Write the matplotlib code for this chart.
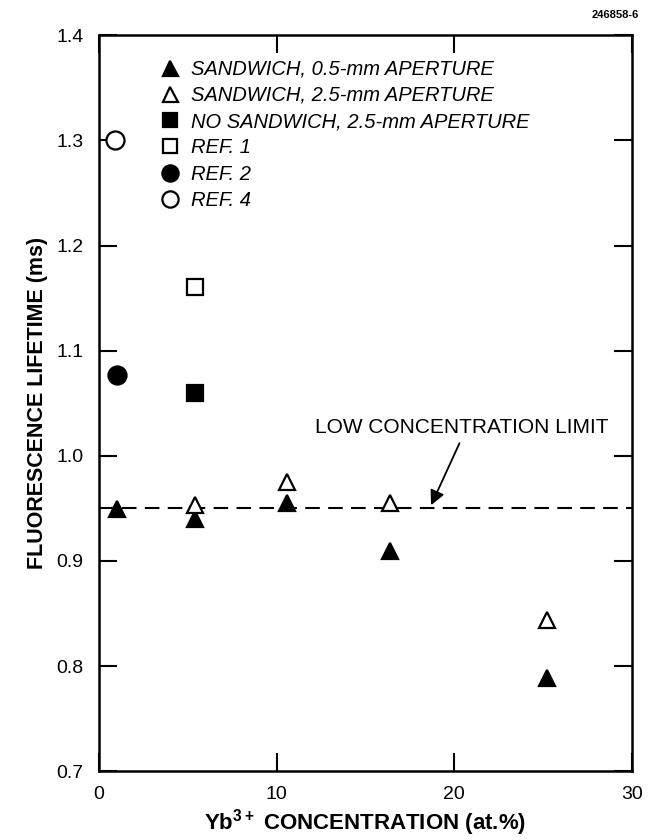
import matplotlib.pyplot as plt
import numpy as np

plt.rcParams['font.family'] = ['Liberation Sans', 'DejaVu Sans']
plt.rcParams['mathtext.fontset'] = 'custom'
plt.rcParams['mathtext.rm'] = 'Liberation Sans'
plt.rcParams['mathtext.bf'] = 'Liberation Sans:bold'

# Datos
x_sand05 = [1.0, 5.4, 10.6, 16.4, 25.2]
y_sand05 = [0.949, 0.940, 0.955, 0.909, 0.789]

x_sand25 = [5.4, 10.6, 16.4, 25.2]
y_sand25 = [0.953, 0.975, 0.955, 0.844]

x_nosand = [5.4]
y_nosand = [1.060]

x_ref1 = [5.4]
y_ref1 = [1.161]

x_ref2 = [1.0]
y_ref2 = [1.077]

x_ref4 = [0.9]
y_ref4 = [1.300]

limite = 0.95

etiquetas = ["SANDWICH, 0.5-mm APERTURE", "SANDWICH, 2.5-mm APERTURE",
             "NO SANDWICH, 2.5-mm APERTURE", "REF. 1", "REF. 2", "REF. 4"]

fig = plt.figure(figsize=(6.49, 8.4), dpi=100)
ax = fig.add_axes([0.1525, 0.082, 0.821, 0.876])

ax.axhline(limite, color='black', lw=1.5, ls=(0, (7, 4)), zorder=1)

ms = 12
kw = dict(ls='none', color='black', mew=1.6, zorder=3)
ax.plot(x_sand05, y_sand05, marker='^', ms=ms, label=etiquetas[0], **kw)
ax.plot(x_sand25, y_sand25, marker='^', ms=ms, mfc='white', label=etiquetas[1], **kw)
ax.plot(x_nosand, y_nosand, marker='s', ms=ms - 1, label=etiquetas[2], **kw)
ax.plot(x_ref1, y_ref1, marker='s', ms=ms - 1, mfc='white', label=etiquetas[3], **kw)
ax.plot(x_ref2, y_ref2, marker='o', ms=ms + 1, label=etiquetas[4], **kw)
ax.plot(x_ref4, y_ref4, marker='o', ms=ms + 1, mfc='white', label=etiquetas[5], **kw)

leg = ax.legend(loc='upper left', bbox_to_anchor=(0.116, 0.967), frameon=False,
                prop={'style': 'italic', 'size': 14.5}, handlelength=0.9,
                handletextpad=0.6, labelspacing=0.36, markerscale=0.9,
                borderpad=0, borderaxespad=0)

# texto y flecha del limite
ax.text(20.4, 1.018, "LOW CONCENTRATION LIMIT", ha='center', va='bottom', fontsize=15)
ax.annotate("", xy=(18.7, 0.953), xytext=(20.3, 1.012),
            arrowprops=dict(arrowstyle='-|>', color='black', lw=1.3,
                            mutation_scale=22, shrinkA=0, shrinkB=0))

ax.set_xlim(0, 30)
ax.set_ylim(0.7, 1.4)
ax.set_xticks([0, 10, 20, 30])
ax.set_yticks(np.arange(0.7, 1.41, 0.1))
ax.set_yticklabels([f"{v:.1f}" for v in np.arange(0.7, 1.41, 0.1)])
ax.tick_params(direction='in', length=13, width=1.5, labelsize=14,
               top=True, right=True, pad=11)
for s in ax.spines.values():
    s.set_linewidth(1.8)

ax.set_xlabel(r"Yb$^{\mathbf{3+}}$ CONCENTRATION (at.%)", fontsize=16, fontweight='bold', labelpad=3)
ax.set_ylabel("FLUORESCENCE LIFETIME (ms)", fontsize=15.5, fontweight='bold', labelpad=6)

fig.text(0.985, 0.982, "246858-6", ha='right', va='center', fontsize=8, fontweight='bold')

fig.savefig("out.png", dpi=100)
